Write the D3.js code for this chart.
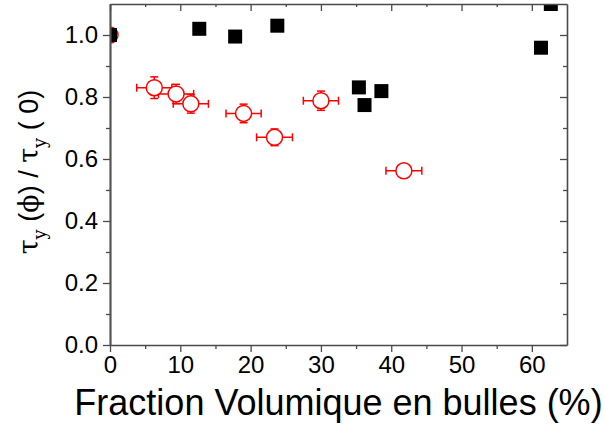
<!DOCTYPE html>
<html><head><meta charset="utf-8">
<script src="https://cdn.jsdelivr.net/npm/d3@7"></script>
<style>body{margin:0;background:#fff;} svg{display:block;font-family:"Liberation Sans",Arial,sans-serif;}</style>
</head><body>
<svg id="c" width="605" height="428"></svg>
<script>
// Data
const squareX = [0, 12.7, 17.8, 23.8, 35.4, 36.2, 38.6, 61.3, 62.7];
const squareY = [1.0, 1.02, 0.995, 1.03, 0.831, 0.774, 0.819, 0.959, 1.1];
const circleX = [0, 6.3, 9.4, 11.5, 19.0, 23.4, 30.0, 41.8];
const circleY = [1.0, 0.830, 0.810, 0.778, 0.747, 0.670, 0.788, 0.562];
const circleXErr = [0, 2.5, 2.5, 2.5, 2.5, 2.55, 2.5, 2.55];
const circleYErr = [0, 0.035, 0.031, 0.030, 0.030, 0.027, 0.031, 0.008];
const xTicks = [0, 10, 20, 30, 40, 50, 60];
const yTicks = [0.0, 0.2, 0.4, 0.6, 0.8, 1.0];
const xMinor = [5, 15, 25, 35, 45, 55];
const yMinor = [0.1, 0.3, 0.5, 0.7, 0.9];

const svg = d3.select("#c");
const L = 110, R = 567, T = 4, B = 345;
const x = d3.scaleLinear().domain([0, 65]).range([L, R]);
const y = d3.scaleLinear().domain([0, 1.1]).range([B, T]);
const axisColor = "#4a4a4a";

svg.append("clipPath").attr("id", "clip").append("rect")
  .attr("x", L).attr("y", T).attr("width", R - L).attr("height", B - T);

const plot = svg.append("g").attr("clip-path", "url(#clip)");

// error bars
const red = "#ff0000";
const cdata = circleX.map((v, i) => ({x: v, y: circleY[i], ex: circleXErr[i], ey: circleYErr[i]}));
const eb = plot.append("g").attr("stroke", red).attr("stroke-width", 1.5).attr("fill", "none");
cdata.forEach(d => {
  if (d.ex > 0) {
    eb.append("line").attr("x1", x(d.x - d.ex)).attr("x2", x(d.x + d.ex)).attr("y1", y(d.y)).attr("y2", y(d.y));
    [d.x - d.ex, d.x + d.ex].forEach(v => eb.append("line").attr("x1", x(v)).attr("x2", x(v)).attr("y1", y(d.y) - 4).attr("y2", y(d.y) + 4));
  }
  if (d.ey > 0) {
    eb.append("line").attr("x1", x(d.x)).attr("x2", x(d.x)).attr("y1", y(d.y - d.ey)).attr("y2", y(d.y + d.ey));
    [d.y - d.ey, d.y + d.ey].forEach(v => eb.append("line").attr("x1", x(d.x) - 4).attr("x2", x(d.x) + 4).attr("y1", y(v)).attr("y2", y(v)));
  }
});
plot.append("g").selectAll("circle").data(cdata).join("circle")
  .attr("cx", d => x(d.x)).attr("cy", d => y(d.y)).attr("r", 8)
  .attr("fill", "#fff").attr("stroke", red).attr("stroke-width", 1.5);

const sdata = squareX.map((v, i) => ({x: v, y: squareY[i]}));
const S = 14;
plot.append("g").selectAll("rect").data(sdata).join("rect")
  .attr("x", d => x(d.x) - S / 2).attr("y", d => y(d.y) - S / 2)
  .attr("width", S).attr("height", S).attr("fill", "#000");

// axes
function styleAxis(g) {
  g.select(".domain").attr("stroke", axisColor).attr("stroke-width", 1.6);
  g.selectAll(".tick line").attr("stroke", axisColor).attr("stroke-width", 1.3);
  g.selectAll(".tick text").attr("fill", "#000");
}
const fmt = d3.format(".1f");
svg.append("g").attr("transform", `translate(0,${B})`)
  .call(d3.axisBottom(x).tickValues(xTicks).tickSize(7).tickSizeOuter(0).tickPadding(4))
  .call(styleAxis).call(g => g.selectAll("text").attr("font-size", 24).attr("font-family", "Liberation Sans, Arial"));
svg.append("g").attr("transform", `translate(0,${B})`)
  .call(d3.axisBottom(x).tickValues(xMinor).tickSize(4).tickFormat("")).call(styleAxis)
  .call(g => g.select(".domain").remove());
svg.append("g").attr("transform", `translate(${L},0)`)
  .call(d3.axisLeft(y).tickValues(yTicks).tickSize(7).tickSizeOuter(0).tickPadding(5).tickFormat(fmt))
  .call(styleAxis).call(g => g.selectAll("text").attr("font-size", 24).attr("font-family", "Liberation Sans, Arial"))
  .call(g => g.select(".domain").attr("stroke-width", 2.2).attr("stroke", "#555"));
svg.append("g").attr("transform", `translate(${L},0)`)
  .call(d3.axisLeft(y).tickValues(yMinor).tickSize(4).tickFormat("")).call(styleAxis)
  .call(g => g.select(".domain").remove());
// top & right mirrored (inward ticks)
svg.append("g").attr("transform", `translate(0,${T})`)
  .call(d3.axisBottom(x).tickValues(xTicks).tickSize(7).tickSizeOuter(0).tickFormat(""))
  .call(styleAxis);
svg.append("g").attr("transform", `translate(0,${T})`)
  .call(d3.axisBottom(x).tickValues(xMinor).tickSize(3).tickFormat("")).call(styleAxis)
  .call(g => g.select(".domain").remove());
svg.append("g").attr("transform", `translate(${R},0)`)
  .call(d3.axisLeft(y).tickValues(yTicks).tickSize(7).tickSizeOuter(0).tickFormat(""))
  .call(styleAxis);
svg.append("g").attr("transform", `translate(${R},0)`)
  .call(d3.axisLeft(y).tickValues(yMinor).tickSize(4).tickFormat("")).call(styleAxis)
  .call(g => g.select(".domain").remove());

// titles
svg.append("text").attr("x", (L + R) / 2).attr("y", 415).attr("text-anchor", "middle")
  .attr("font-size", 36).attr("font-family", "Liberation Sans, Arial").text("Fraction Volumique en bulles (%)");

const yl = svg.append("text").attr("transform", "translate(38,172) rotate(-90)")
  .attr("text-anchor", "middle").attr("font-size", 27).attr("font-family", "DejaVu Serif, Liberation Serif, serif");
yl.append("tspan").text("τ");
yl.append("tspan").attr("font-size", 18).attr("dy", 8).text("y");
yl.append("tspan").attr("dy", -8).attr("font-family", "Liberation Sans, Arial").text(" (");
yl.append("tspan").text("ϕ");
yl.append("tspan").attr("font-family", "Liberation Sans, Arial").text(") / ");
yl.append("tspan").text("τ");
yl.append("tspan").attr("font-size", 18).attr("dy", 8).text("y");
yl.append("tspan").attr("dy", -8).attr("font-family", "Liberation Sans, Arial").text(" ( 0)");
</script>
</body></html>
